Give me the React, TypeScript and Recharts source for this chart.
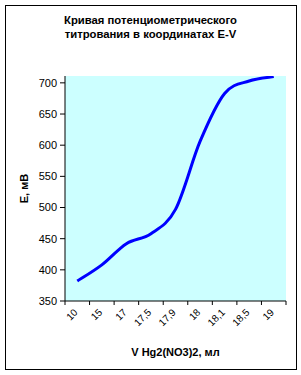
import { LineChart, Line, XAxis, YAxis, CartesianGrid } from "recharts";

const volumes = ["10", "15", "17", "17,5", "17,9", "18", "18,1", "18,5", "19"];
const potentials = [382, 408, 442, 458, 497, 606, 683, 703, 710];
const yTicks = [350, 400, 450, 500, 550, 600, 650, 700];

const W = 301;
const H = 375;
const TOP = 76;
const RIGHT = 15;
const Y_AXIS_W = 65;
const X_AXIS_H = 74;
const PLOT_W = W - Y_AXIS_W - RIGHT;
const STEP = PLOT_W / volumes.length;
const AXIS_Y = H - X_AXIS_H;
const FONT = "'Liberation Sans', Arial, sans-serif";

const chartData = volumes.map((v, i) => ({ v, e: potentials[i] }));

// Excel-like smoothed line (Catmull-Rom through the points)
function excelSmooth(context: any) {
  let pts: number[][] = [];
  return {
    areaStart() {},
    areaEnd() {},
    lineStart() {
      pts = [];
    },
    point(x: number, y: number) {
      pts.push([+x, +y]);
    },
    lineEnd() {
      if (!pts.length) return;
      context.moveTo(pts[0][0], pts[0][1]);
      for (let i = 0; i < pts.length - 1; i++) {
        const p0 = pts[i - 1] || pts[i];
        const p1 = pts[i];
        const p2 = pts[i + 1];
        const p3 = pts[i + 2] || p2;
        context.bezierCurveTo(
          p1[0] + (p2[0] - p0[0]) / 6,
          p1[1] + (p2[1] - p0[1]) / 6,
          p2[0] - (p3[0] - p1[0]) / 6,
          p2[1] - (p3[1] - p1[1]) / 6,
          p2[0],
          p2[1]
        );
      }
    },
  };
}

function VolumeTick(props: any) {
  const { x, payload, index } = props;
  const last = index === volumes.length - 1;
  return (
    <g>
      <line x1={x - STEP / 2} y1={AXIS_Y} x2={x - STEP / 2} y2={AXIS_Y + 4} stroke="#000" />
      {last && (
        <line x1={x + STEP / 2} y1={AXIS_Y} x2={x + STEP / 2} y2={AXIS_Y + 4} stroke="#000" />
      )}
      <text
        x={x + 1}
        y={AXIS_Y + 12}
        textAnchor="end"
        fontSize={10}
        fontFamily={FONT}
        fill="#000"
        transform={`rotate(-45 ${x + 1} ${AXIS_Y + 12})`}
      >
        {payload.value}
      </text>
    </g>
  );
}

export default function App() {
  return (
    <div style={{ position: "absolute", left: 0, top: 0, width: W, height: H, background: "#fff" }}>
      <div
        style={{
          position: "absolute",
          left: 5,
          top: 5,
          width: 290,
          height: 363,
          border: "1px solid #000",
          pointerEvents: "none",
        }}
      />
      <div
        style={{
          position: "absolute",
          left: 0,
          top: 14,
          width: W,
          textAlign: "center",
          fontFamily: FONT,
          fontWeight: "bold",
          fontSize: 11.3,
          lineHeight: "13.5px",
        }}
      >
        Кривая потенциометрического
        <br />
        титрования в координатах E-V
      </div>
      <LineChart
        width={W}
        height={H}
        data={chartData}
        margin={{ top: TOP, right: RIGHT, bottom: 0, left: 0 }}
      >
        <CartesianGrid fill="#CCFFFF" stroke="none" horizontal={false} vertical={false} />
        <XAxis
          dataKey="v"
          height={X_AXIS_H}
          padding={{ left: STEP / 2, right: STEP / 2 }}
          axisLine={{ stroke: "#000" }}
          tickLine={false}
          interval={0}
          tick={<VolumeTick />}
          label={{
            value: "V Hg2(NO3)2, мл",
            position: "insideBottom",
            offset: 19,
            fontFamily: FONT,
            fontWeight: "bold",
            fontSize: 11,
            fill: "#000",
          }}
        />
        <YAxis
          width={Y_AXIS_W}
          domain={[350, 711]}
          ticks={yTicks}
          allowDataOverflow
          axisLine={{ stroke: "#000" }}
          tickLine={{ stroke: "#000" }}
          tickSize={5}
          tickMargin={3}
          tick={{ fontSize: 11, fontFamily: FONT, fill: "#000" }}
          label={{
            value: "E, мВ",
            angle: -90,
            position: "center",
            dx: -8,
            fontFamily: FONT,
            fontWeight: "bold",
            fontSize: 11,
            fill: "#000",
          }}
        />
        <Line
          type={excelSmooth as any}
          dataKey="e"
          stroke="#0000FF"
          strokeWidth={3}
          dot={false}
          isAnimationActive={false}
        />
      </LineChart>
    </div>
  );
}
